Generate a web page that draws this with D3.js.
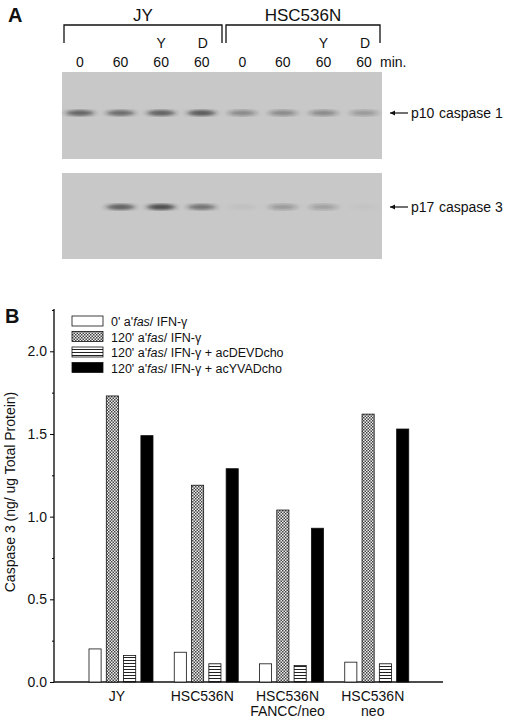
<!DOCTYPE html>
<html>
<head>
<meta charset="utf-8">
<style>
body{margin:0;background:#fff}
text{font-family:"Liberation Sans",Arial,sans-serif;fill:#111}
</style>
</head>
<body>
<script src="https://cdn.jsdelivr.net/npm/d3@7"></script>
<script>
// panel A data
const cellLines = ["JY", "HSC536N"]
const laneTimes = ["0", "60", "60", "60", "0", "60", "60", "60"]
const laneInhib = ["", "", "Y", "D", "", "", "Y", "D"]
const casp1Band = [0.75, 0.7, 0.8, 0.85, 0.45, 0.45, 0.45, 0.35]
const casp3Band = [0.0, 0.8, 0.95, 0.65, 0.05, 0.35, 0.3, 0.03]
// panel B data
const groups = ["JY", "HSC536N", "HSC536N\nFANCC/neo", "HSC536N\nneo"]
const seriesNames = ["0' a'fas/ IFN-γ", "120' a'fas/ IFN-γ", "120' a'fas/ IFN-γ + acDEVDcho", "120' a'fas/ IFN-γ + acYVADcho"]
const s0 = [0.20, 0.18, 0.11, 0.12]
const s120 = [1.73, 1.19, 1.04, 1.62]
const sDEVD = [0.16, 0.11, 0.10, 0.11]
const sYVAD = [1.49, 1.29, 0.93, 1.53]
const yTicks = [0.0, 0.5, 1.0, 1.5, 2.0]

const svg = d3.select("body").append("svg").attr("width", 520).attr("height", 718)
const defs = svg.append("defs")
defs.append("filter").attr("id", "blur").append("feGaussianBlur").attr("stdDeviation", "3 1.6")
const dots = defs.append("pattern").attr("id", "dots").attr("width", 3).attr("height", 3).attr("patternUnits", "userSpaceOnUse")
dots.append("rect").attr("width", 3).attr("height", 3).attr("fill", "#eee")
dots.append("rect").attr("width", 1.5).attr("height", 1.5).attr("fill", "#444")
dots.append("rect").attr("x", 1.5).attr("y", 1.5).attr("width", 1.5).attr("height", 1.5).attr("fill", "#444")
const hatch = defs.append("pattern").attr("id", "hatch").attr("width", 4).attr("height", 3).attr("patternUnits", "userSpaceOnUse")
hatch.append("rect").attr("width", 4).attr("height", 3).attr("fill", "#fff")
hatch.append("rect").attr("y", 0).attr("width", 4).attr("height", 1).attr("fill", "#222")

// ---------- panel A
svg.append("text").attr("x", 8).attr("y", 22).attr("font-size", 20).attr("font-weight", "bold").text("A")
const lane = d3.scalePoint().domain(d3.range(8)).range([80, 364])
const brackets = [[64, 222], [226, 380]]
brackets.forEach((b, i) => {
  svg.append("path").attr("d", `M${b[0]},43V25H${b[1]}V43`).attr("fill", "none").attr("stroke", "#111").attr("stroke-width", 1.3)
  svg.append("text").attr("x", (b[0] + b[1]) / 2).attr("y", 21).attr("text-anchor", "middle").attr("font-size", 17).text(cellLines[i])
})
svg.selectAll(".t").data(laneTimes).enter().append("text")
  .attr("x", (d, i) => lane(i)).attr("y", 67).attr("text-anchor", "middle").attr("font-size", 14).text(d => d)
svg.selectAll(".inh").data(laneInhib).enter().append("text")
  .attr("x", (d, i) => lane(i) + (i % 4 == 3 ? 1 : 0)).attr("y", 48).attr("text-anchor", "middle").attr("font-size", 14).text(d => d)
svg.append("text").attr("x", 380).attr("y", 67).attr("font-size", 14).text("min.")

const gels = [{y: 72, h: 87, band: casp1Band, by: 113, label: "p10", name: "caspase 1"},
              {y: 173, h: 86, band: casp3Band, by: 207, label: "p17", name: "caspase 3"}]
gels.forEach(g => {
  svg.append("rect").attr("x", 62).attr("y", g.y).attr("width", 320).attr("height", g.h).attr("fill", "#c8c8c8")
  svg.append("g").attr("filter", "url(#blur)").selectAll("ellipse").data(g.band).enter().append("ellipse")
    .attr("cx", (d, i) => lane(i)).attr("cy", g.by).attr("rx", 14).attr("ry", 3)
    .attr("fill", "#222").attr("opacity", d => d * 0.8)
  svg.append("path").attr("d", `M390,${g.by}h18`).attr("stroke", "#111").attr("stroke-width", 1.2)
  svg.append("path").attr("d", `M390,${g.by}l5,-2.5v5z`).attr("fill", "#111")
  svg.append("text").attr("x", 411).attr("y", g.by + 5).attr("font-size", 14).text(g.label)
  svg.append("text").attr("x", 439).attr("y", g.by + 5).attr("font-size", 14).text(g.name)
})

// ---------- panel B
svg.append("text").attr("x", 5).attr("y", 323).attr("font-size", 20).attr("font-weight", "bold").text("B")
const y = d3.scaleLinear().domain([0, 2]).range([682, 351.3])
const x0 = d3.scaleBand().domain(groups).range([80, 421]).paddingInner(0)
const x1 = d3.scaleBand().domain(d3.range(4)).range([9, 73]).paddingInner(0.3)
const fills = ["#fff", "url(#dots)", "url(#hatch)", "#000"]
const series = [s0, s120, sDEVD, sYVAD]

const yAxis = svg.append("g").attr("transform", "translate(54,0)")
  .call(d3.axisLeft(y).tickValues(yTicks).tickFormat(d3.format(".1f")).tickSize(4))
yAxis.select(".domain").attr("d", "M0,309V682").attr("stroke-width", 1.3)
yAxis.append("g").call(d3.axisLeft(y).tickValues(d3.range(0.25, 2.3, 0.5)).tickSize(2).tickFormat(""))
  .select(".domain").remove()
yAxis.selectAll("text").attr("font-size", 14).attr("fill", "#111").style("font-family", "Liberation Sans")
svg.append("path").attr("d", "M54,682H443").attr("stroke", "#111").attr("stroke-width", 1.5)

groups.forEach((g, gi) => {
  series.forEach((s, si) => {
    svg.append("rect").attr("x", x0(g) + x1(si)).attr("y", y(s[gi])).attr("width", x1.bandwidth())
      .attr("height", y(0) - y(s[gi])).attr("fill", fills[si]).attr("stroke", "#111").attr("stroke-width", 0.8)
  })
  g.split("\n").forEach((line, li) => {
    svg.append("text").attr("x", x0(g) + 37).attr("y", 701 + li * 15).attr("text-anchor", "middle").attr("font-size", 14).text(line)
  })
})

svg.append("text").attr("transform", "translate(15,492) rotate(-90)").attr("text-anchor", "middle")
  .attr("font-size", 14).text("Caspase 3 (ng/ ug Total Protein)")

const leg = svg.append("g").attr("transform", "translate(72,316)")
seriesNames.forEach((n, i) => {
  leg.append("rect").attr("x", 0).attr("y", i * 15.5).attr("width", 31).attr("height", 10)
    .attr("fill", fills[i]).attr("stroke", "#111").attr("stroke-width", 0.8)
  const t = leg.append("text").attr("x", 39).attr("y", i * 15.5 + 10).attr("font-size", 12.5)
  const parts = n.split("fas")
  t.append("tspan").text(parts[0])
  t.append("tspan").attr("font-style", "italic").text("fas")
  t.append("tspan").text(parts[1])
})
</script>
</body>
</html>
